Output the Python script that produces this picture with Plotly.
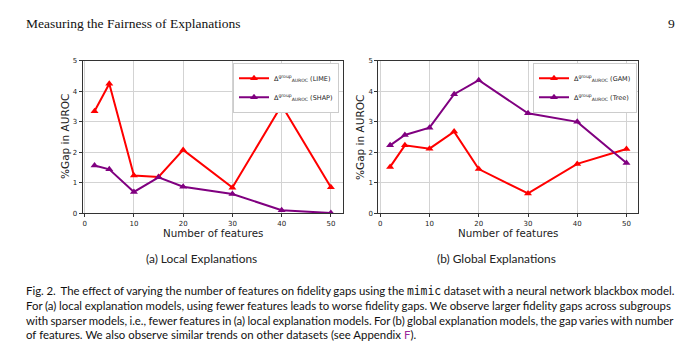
import plotly.graph_objects as go

x_features = [2, 5, 10, 15, 20, 30, 40, 50]
lime_gap = [3.35, 4.25, 1.24, 1.19, 2.08, 0.84, 3.55, 0.85]
shap_gap = [1.57, 1.44, 0.70, 1.18, 0.87, 0.63, 0.10, 0.01]
gam_gap = [1.52, 2.23, 2.12, 2.68, 1.45, 0.65, 1.62, 2.11]
tree_gap = [2.23, 2.57, 2.81, 3.91, 4.37, 3.28, 3.00, 1.65]

x_ticks = [0, 10, 20, 30, 40, 50]
y_ticks = [0, 1, 2, 3, 4, 5]

RED = "#ff0000"
PURPLE = "#800080"
W, H = 700, 357

def px_x(p):
    return p / W

def px_y(p):
    return 1 - p / H

fig = go.Figure()

delta = "Δ<sup>group</sup><sub>AUROC</sub>"

def add_series(xs, ys, name, color, xa, ya, legend):
    fig.add_trace(go.Scatter(
        x=xs, y=ys, name=delta + " " + name, mode="lines+markers",
        line=dict(color=color, width=2),
        marker=dict(symbol="triangle-up", size=7, color=color),
        xaxis=xa, yaxis=ya, legend=legend,
    ))

add_series(x_features, lime_gap, "(LIME)", RED, "x", "y", "legend")
add_series(x_features, shap_gap, "(SHAP)", PURPLE, "x", "y", "legend")
add_series(x_features, gam_gap, "(GAM)", RED, "x2", "y2", "legend2")
add_series(x_features, tree_gap, "(Tree)", PURPLE, "x2", "y2", "legend2")

tickfont = dict(family="DejaVu Sans", size=7, color="#222")
axis_common = dict(
    showline=True, mirror=True, linecolor="#333", linewidth=1,
    showgrid=True, gridcolor="#d3d3d3", gridwidth=1,
    ticks="outside", ticklen=3, tickcolor="#333", tickfont=tickfont,
    zeroline=False, fixedrange=True,
)

L = (82.7, 342.7)
R = (378.3, 638.3)
T, B = 58.3, 214.0

legend_common = dict(xanchor="right", yanchor="top",
                     bgcolor="white", bordercolor="#ccc", borderwidth=1,
                     font=dict(family="DejaVu Sans", size=6.5, color="#222"),
                     itemwidth=30, tracegroupgap=0)

fig.update_layout(
    width=W, height=H, margin=dict(l=0, r=0, t=0, b=0),
    paper_bgcolor="white", plot_bgcolor="white",
    xaxis=dict(domain=[px_x(L[0]), px_x(L[1])], range=[-0.4, 52.4], tickvals=x_ticks, anchor="y", **axis_common),
    yaxis=dict(domain=[px_y(B), px_y(T)], range=[0, 5], tickvals=y_ticks, anchor="x", **axis_common),
    xaxis2=dict(domain=[px_x(R[0]), px_x(R[1])], range=[-0.4, 52.4], tickvals=x_ticks, anchor="y2", **axis_common),
    yaxis2=dict(domain=[px_y(B), px_y(T)], range=[0, 5], tickvals=y_ticks, anchor="x2", **axis_common),
    legend=dict(x=px_x(339), y=px_y(60), **legend_common),
    legend2=dict(x=px_x(637), y=px_y(60), **legend_common),
    showlegend=True,
)

ann = []
def text(x, y, s, size, family, xanchor="center", angle=0, color="#222"):
    ann.append(dict(x=px_x(x), y=px_y(y), xref="paper", yref="paper", text=s,
                    showarrow=False, xanchor=xanchor, yanchor="middle",
                    textangle=angle, font=dict(family=family, size=size, color=color)))

# axis titles
text(212.7, 234, "Number of features", 10.3, "DejaVu Sans")
text(508, 234, "Number of features", 10.3, "DejaVu Sans")
text(65, 136, "%Gap in AUROC", 10.5, "DejaVu Sans", angle=-90)
text(360, 136, "%Gap in AUROC", 10.5, "DejaVu Sans", angle=-90)

# header
text(24, 20, "Measuring the Fairness of Explanations", 13.5, "Liberation Serif", xanchor="left", color="#111")
text(671, 20, "9", 13.5, "Liberation Serif", color="#111")

# subcaptions
text(201, 260, "(a) Local Explanations", 11.9, "Lato")
text(496.5, 260, "(b) Global Explanations", 11.9, "Lato")

mono = '<span style="font-family:\'DejaVu Sans Mono\'">mimic</span>'
cap_lines = [
    "Fig. 2.  The effect of varying the number of features on fidelity gaps using the " + mono + " dataset with a neural network blackbox model.",
    "For (a) local explanation models, using fewer features leads to worse fidelity gaps. We observe larger fidelity gaps across subgroups",
    "with sparser models, i.e., fewer features in (a) local explanation models. For (b) global explanation models, the gap varies with number",
    "of features. We also observe similar trends on other datasets (see Appendix <span style=\"color:#9b2a9b\">F</span>).",
]
cap_spacing = [-0.3, -0.2, -0.6, 0.1]
cap_y = [293.3, 308.3, 323.3, 338.0]
for s, y, ws in zip(cap_lines, cap_y, cap_spacing):
    styled = '<span style="word-spacing:%.2fpx">%s</span>' % (ws, s)
    text(24, y, styled, 11.4, "Lato", xanchor="left", color="#111")

fig.update_layout(annotations=ann)
fig.write_html("out.html", config={"displayModeBar": False},
               post_script="document.body.style.margin='0';document.body.style.overflow='hidden';")
